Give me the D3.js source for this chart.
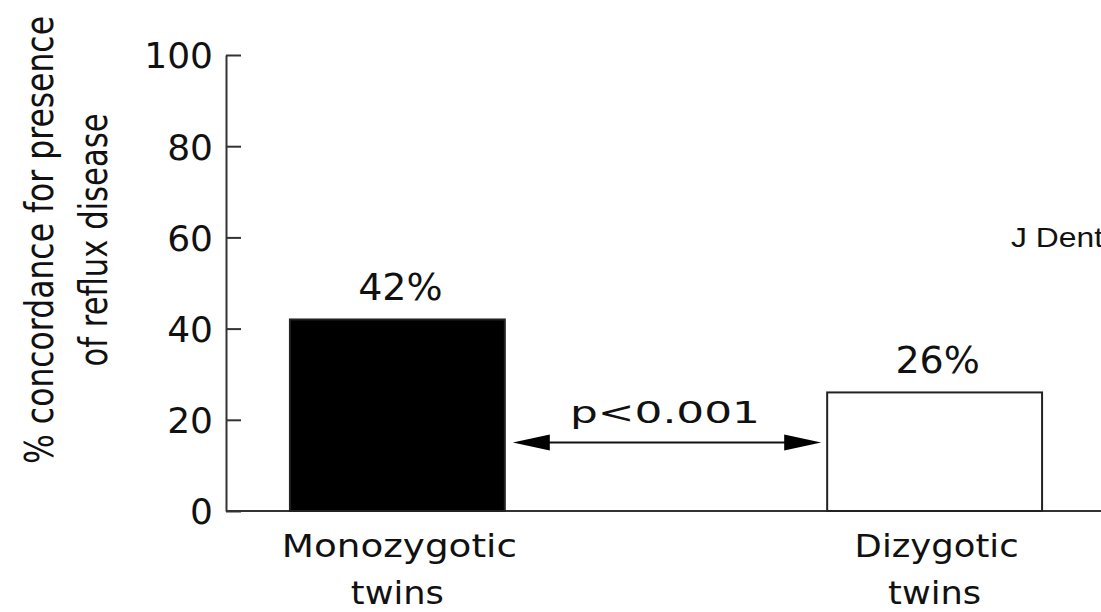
<!DOCTYPE html>
<html>
<head>
<meta charset="utf-8">
<script src="https://cdn.jsdelivr.net/npm/d3@7"></script>
<style>
  html, body { margin: 0; padding: 0; background: #fff; }
  svg { display: block; }
  text { font-family: "DejaVu Sans", sans-serif; fill: #111; }
</style>
</head>
<body>
<svg></svg>
<script>
const [WIDTH, HEIGHT] = [1101, 612]

// data
const categories = ["Monozygotic", "Dizygotic"]
const catLine2 = ["twins", "twins"]
const values = [42, 26]
const valueLabels = ["42%", "26%"]
const yTicks = [0, 20, 40, 60, 80, 100]
const pText = "p<0.001"
const arrowLevel = 15
const yTitle = ["% concordance for presence", "of reflux disease"]

const svg = d3.select("svg")
    .attr("width", WIDTH)
    .attr("height", HEIGHT)
    .attr("viewBox", "0 0 " + WIDTH + " " + HEIGHT)

const axisX = 226
const y = d3.scaleLinear().domain([0, 100]).range([511, 55])
const x = d3.scaleBand().domain(categories)
    .range([axisX, 1106])
    .paddingInner(0.6)
    .paddingOuter(0.119)

// y axis, ticks pointing into the plot
const yAxis = svg.append("g")
    .attr("transform", `translate(${axisX},0)`)
    .call(d3.axisLeft(y).tickValues(yTicks).tickSizeInner(-15).tickSizeOuter(0).tickPadding(13))
yAxis.select(".domain").attr("stroke", "#333").attr("stroke-width", 2)
yAxis.selectAll(".tick line").attr("stroke", "#333").attr("stroke-width", 2)
yAxis.selectAll(".tick text")
    .style("font-family", "DejaVu Sans, sans-serif")
    .attr("font-size", 36)
    .attr("dy", "0.36em")
    .attr("fill", "#111")

// baseline
svg.append("line")
    .attr("x1", axisX).attr("x2", WIDTH)
    .attr("y1", y(0)).attr("y2", y(0))
    .attr("stroke", "#333").attr("stroke-width", 2)

// bars
svg.append("g").selectAll("rect")
    .data(values)
    .join("rect")
    .attr("x", (d, i) => x(categories[i]))
    .attr("y", d => y(d))
    .attr("width", x.bandwidth())
    .attr("height", d => y(0) - y(d))
    .attr("fill", (d, i) => i === 0 ? "#000" : "#fff")
    .attr("stroke", "#222")
    .attr("stroke-width", 2)

// value labels
svg.append("g").selectAll("text")
    .data(valueLabels)
    .join("text")
    .attr("x", (d, i) => x(categories[i]) + x.bandwidth() / 2 + 3)
    .attr("y", (d, i) => y(values[i]) - 19)
    .attr("text-anchor", "middle")
    .attr("font-size", 38)
    .text(d => d)

// category labels
const catG = svg.append("g")
catG.selectAll("text.l1")
    .data(categories)
    .join("text")
    .attr("class", "l1")
    .attr("x", d => x(d) + x.bandwidth() / 2 + 2)
    .attr("y", 557)
    .attr("text-anchor", "middle")
    .attr("font-size", 32)
    .attr("textLength", (d, i) => i === 0 ? 235 : 164)
    .attr("lengthAdjust", "spacingAndGlyphs")
    .text(d => d)
catG.selectAll("text.l2")
    .data(catLine2)
    .join("text")
    .attr("class", "l2")
    .attr("x", (d, i) => x(categories[i]) + x.bandwidth() / 2)
    .attr("y", 604)
    .attr("text-anchor", "middle")
    .attr("font-size", 32)
    .attr("textLength", 93)
    .attr("lengthAdjust", "spacingAndGlyphs")
    .text(d => d)

// double-headed arrow between bars
const ax1 = x(categories[0]) + x.bandwidth() + 8
const ax2 = x(categories[1]) - 6
const ay = y(arrowLevel)
const headL = 37, headH = 8
svg.append("line")
    .attr("x1", ax1 + headL - 2).attr("x2", ax2 - headL + 2)
    .attr("y1", ay).attr("y2", ay)
    .attr("stroke", "#111").attr("stroke-width", 2)
svg.append("path")
    .attr("d", `M${ax1},${ay} L${ax1 + headL},${ay - headH} L${ax1 + headL},${ay + headH} Z`)
    .attr("fill", "#000")
svg.append("path")
    .attr("d", `M${ax2},${ay} L${ax2 - headL},${ay - headH} L${ax2 - headL},${ay + headH} Z`)
    .attr("fill", "#000")
svg.append("text")
    .attr("x", (ax1 + ax2) / 2 - 2)
    .attr("y", ay - 20)
    .attr("text-anchor", "middle")
    .attr("font-size", 31)
    .attr("textLength", 190)
    .attr("lengthAdjust", "spacingAndGlyphs")
    .text(pText)

// y title, two rotated lines
svg.append("g").selectAll("text")
    .data(yTitle)
    .join("text")
    .attr("transform", (d, i) => `translate(${i === 0 ? 53 : 107},240) rotate(-90)`)
    .attr("text-anchor", "middle")
    .attr("font-size", 39)
    .attr("textLength", (d, i) => i === 0 ? 448 : 253)
    .attr("lengthAdjust", "spacingAndGlyphs")
    .text(d => d)

// source tag at right
svg.append("text")
    .attr("x", 1011)
    .attr("y", 247)
    .style("font-family", "Liberation Sans, Arial, sans-serif")
    .attr("font-size", 28)
    .attr("textLength", 92)
    .attr("lengthAdjust", "spacingAndGlyphs")
    .text("J Dent")
</script>
</body>
</html>
